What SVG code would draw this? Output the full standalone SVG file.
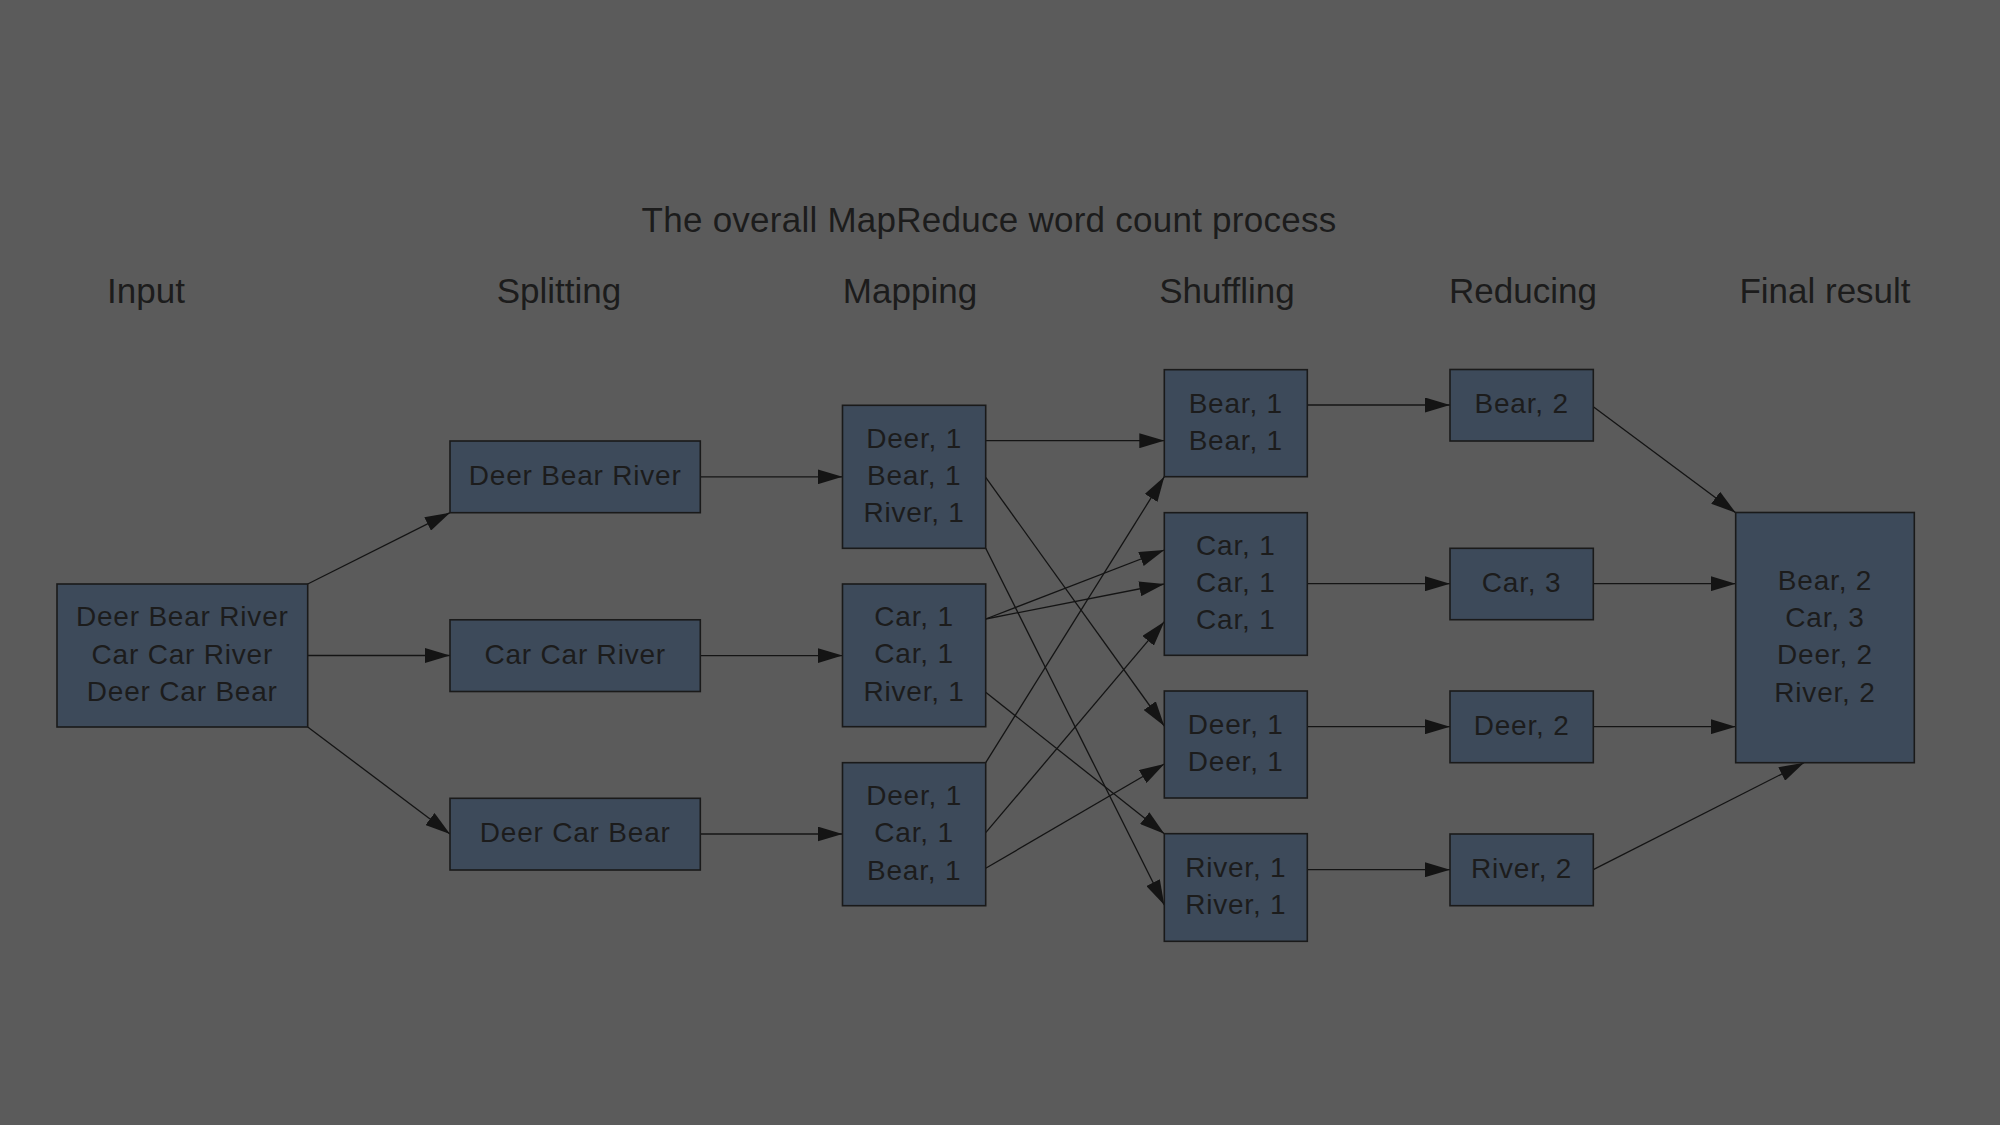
<svg xmlns="http://www.w3.org/2000/svg" width="2000" height="1125" viewBox="0 0 2000 1125">
<style>
.bg{fill:#5b5b5b}
.box{fill:#3d4a5a;stroke:#1a1a1a;stroke-width:1.6}
.t{font-family:"Liberation Sans",Arial,sans-serif;font-size:28px;letter-spacing:0.8px;fill:#1c1c1c;text-anchor:middle}
.h{font-family:"Liberation Sans",Arial,sans-serif;font-size:35px;fill:#1c1c1c;text-anchor:middle}
.e{stroke:#141414;stroke-width:1.3;fill:none;marker-end:url(#ah)}
</style>
<defs>
<marker id="ah" markerUnits="userSpaceOnUse" viewBox="0 0 25 15" markerWidth="25" markerHeight="15" refX="25" refY="7.5" orient="auto">
<path d="M0,0 L25,7.5 L0,15 Z" fill="#141414"/>
</marker>
</defs>
<rect class="bg" x="0" y="0" width="2000" height="1125"/>
<text class="h" x="989" y="232" style="letter-spacing:0.25px">The overall MapReduce word count process</text>
<text class="h" x="146" y="303">Input</text>
<text class="h" x="559" y="303">Splitting</text>
<text class="h" x="910" y="303">Mapping</text>
<text class="h" x="1227" y="303">Shuffling</text>
<text class="h" x="1523" y="303">Reducing</text>
<text class="h" x="1825" y="303">Final result</text>

<g id="connectors">
<path class="e" d="M307.7,584 L450,512.7"/>
<path class="e" d="M307.7,655.5 L450,655.5"/>
<path class="e" d="M307.7,727 L450,834"/>
<path class="e" d="M700.3,476.8 L842.5,476.8"/>
<path class="e" d="M700.3,655.6 L842.5,655.6"/>
<path class="e" d="M700.3,834 L842.5,834"/>
<path class="e" d="M985.7,440.7 L1164.3,440.7"/>
<path class="e" d="M985.7,477.3 L1164.3,726"/>
<path class="e" d="M985.7,548.3 L1164.3,905"/>
<path class="e" d="M985.7,619 L1164.3,550"/>
<path class="e" d="M985.7,619 L1164.3,584"/>
<path class="e" d="M985.7,692.3 L1164.3,833.7"/>
<path class="e" d="M985.7,762.7 L1164.3,476.7"/>
<path class="e" d="M985.7,832.7 L1164.3,621.7"/>
<path class="e" d="M985.7,868.3 L1164.3,764"/>
<path class="e" d="M1307.3,405 L1450,405"/>
<path class="e" d="M1307.3,583.7 L1450,583.7"/>
<path class="e" d="M1307.3,726.7 L1450,726.7"/>
<path class="e" d="M1307.3,869.7 L1450,869.7"/>
<path class="e" d="M1593.3,406.7 L1735.7,512.7"/>
<path class="e" d="M1593.3,583.7 L1735.7,583.7"/>
<path class="e" d="M1593.3,726.7 L1735.7,726.7"/>
<path class="e" d="M1593.3,869.7 L1804,762.7"/>
</g>

<g id="input">
<rect class="box" x="57" y="584" width="250.7" height="143"/>
<text class="t"><tspan x="182.3" y="626.2">Deer Bear River</tspan><tspan x="182.3" y="663.5">Car Car River</tspan><tspan x="182.3" y="700.8">Deer Car Bear</tspan></text>
</g>
<g id="split1">
<rect class="box" x="450" y="441" width="250.3" height="71.7"/>
<text class="t" x="575.2" y="484.8">Deer Bear River</text>
</g>
<g id="split2">
<rect class="box" x="450" y="619.8" width="250.3" height="71.7"/>
<text class="t" x="575.2" y="663.6">Car Car River</text>
</g>
<g id="split3">
<rect class="box" x="450" y="798.3" width="250.3" height="71.7"/>
<text class="t" x="575.2" y="842.1">Deer Car Bear</text>
</g>
<g id="map1">
<rect class="box" x="842.5" y="405.3" width="143.2" height="143"/>
<text class="t"><tspan x="914.1" y="447.5">Deer, 1</tspan><tspan x="914.1" y="484.8">Bear, 1</tspan><tspan x="914.1" y="522.1">River, 1</tspan></text>
</g>
<g id="map2">
<rect class="box" x="842.5" y="584" width="143.2" height="142.7"/>
<text class="t"><tspan x="914.1" y="626">Car, 1</tspan><tspan x="914.1" y="663.3">Car, 1</tspan><tspan x="914.1" y="700.6">River, 1</tspan></text>
</g>
<g id="map3">
<rect class="box" x="842.5" y="762.7" width="143.2" height="143"/>
<text class="t"><tspan x="914.1" y="804.9">Deer, 1</tspan><tspan x="914.1" y="842.2">Car, 1</tspan><tspan x="914.1" y="879.5">Bear, 1</tspan></text>
</g>
<g id="shuffle-bear">
<rect class="box" x="1164.3" y="369.7" width="143" height="107"/>
<text class="t"><tspan x="1235.8" y="412.6">Bear, 1</tspan><tspan x="1235.8" y="449.9">Bear, 1</tspan></text>
</g>
<g id="shuffle-car">
<rect class="box" x="1164.3" y="512.7" width="143" height="142.6"/>
<text class="t"><tspan x="1235.8" y="554.7">Car, 1</tspan><tspan x="1235.8" y="592">Car, 1</tspan><tspan x="1235.8" y="629.3">Car, 1</tspan></text>
</g>
<g id="shuffle-deer">
<rect class="box" x="1164.3" y="691" width="143" height="107"/>
<text class="t"><tspan x="1235.8" y="733.9">Deer, 1</tspan><tspan x="1235.8" y="771.2">Deer, 1</tspan></text>
</g>
<g id="shuffle-river">
<rect class="box" x="1164.3" y="833.7" width="143" height="107.6"/>
<text class="t"><tspan x="1235.8" y="876.9">River, 1</tspan><tspan x="1235.8" y="914.2">River, 1</tspan></text>
</g>
<g id="reduce-bear">
<rect class="box" x="1450" y="369.5" width="143.3" height="71.5"/>
<text class="t" x="1521.6" y="413.3">Bear, 2</text>
</g>
<g id="reduce-car">
<rect class="box" x="1450" y="548.3" width="143.3" height="71.4"/>
<text class="t" x="1521.6" y="592">Car, 3</text>
</g>
<g id="reduce-deer">
<rect class="box" x="1450" y="691" width="143.3" height="71.7"/>
<text class="t" x="1521.6" y="734.9">Deer, 2</text>
</g>
<g id="reduce-river">
<rect class="box" x="1450" y="834" width="143.3" height="71.7"/>
<text class="t" x="1521.6" y="877.9">River, 2</text>
</g>
<g id="final">
<rect class="box" x="1735.7" y="512.5" width="178.6" height="250.2"/>
<text class="t"><tspan x="1825" y="589.7">Bear, 2</tspan><tspan x="1825" y="627">Car, 3</tspan><tspan x="1825" y="664.3">Deer, 2</tspan><tspan x="1825" y="701.6">River, 2</tspan></text>
</g>
</svg>
